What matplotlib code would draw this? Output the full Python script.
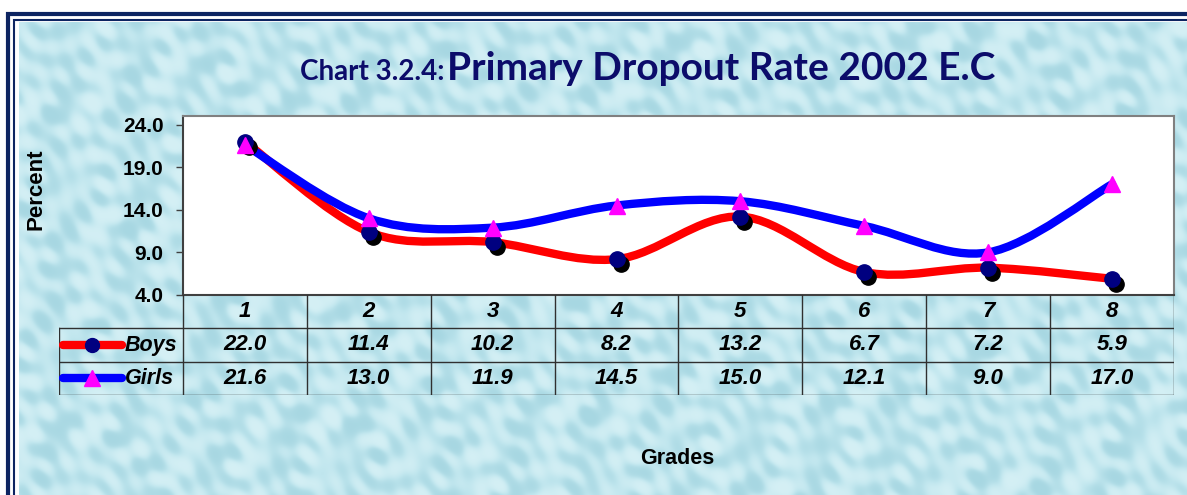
import numpy as np
import matplotlib
matplotlib.use("Agg")
import matplotlib.pyplot as plt
from matplotlib.path import Path
from matplotlib.patches import PathPatch, Rectangle
from matplotlib.lines import Line2D
from matplotlib import transforms
from matplotlib.colors import LinearSegmentedColormap

# donnees : taux d'abandon par classe
grades = ["1", "2", "3", "4", "5", "6", "7", "8"]
boys = [22.0, 11.4, 10.2, 8.2, 13.2, 6.7, 7.2, 5.9]
girls = [21.6, 13.0, 11.9, 14.5, 15.0, 12.1, 9.0, 17.0]
y_ticks = [4.0, 9.0, 14.0, 19.0, 24.0]

W, H = 1187, 495
NAVY = '#0c0c6a'


def px(x0, y0, x1, y1):
    """rectangle en pixels (origine en haut a gauche) -> coords figure"""
    return [x0 / W, 1 - y1 / H, (x1 - x0) / W, (y1 - y0) / H]


def courbe_lisse(xs, ys):
    """courbe de Bezier type Catmull-Rom passant par tous les points"""
    pts = np.column_stack([xs, ys]).astype(float)
    n = len(pts)
    verts = [tuple(pts[0])]
    codes = [Path.MOVETO]
    for i in range(n - 1):
        p0 = pts[max(i - 1, 0)]
        p1 = pts[i]
        p2 = pts[i + 1]
        p3 = pts[min(i + 2, n - 1)]
        c1 = p1 + (p2 - p0) / 6
        c2 = p2 - (p3 - p1) / 6
        verts += [tuple(c1), tuple(c2), tuple(p2)]
        codes += [Path.CURVE4] * 3
    return Path(verts, codes)


fig = plt.figure(figsize=(W / 100, H / 100), dpi=100)
fig.patch.set_facecolor('white')

# fond "gouttes d'eau" : superposition d'ondes dans plusieurs directions
bg = fig.add_axes(px(19, 22, W, H))
bg.set_axis_off()
gx, gy = np.meshgrid(np.linspace(0, 120, 1100), np.linspace(0, 50, 470))
motif = np.zeros_like(gx)
for k, ang in enumerate(np.linspace(0, np.pi, 9, endpoint=False)):
    f = 0.8 + 0.3 * k
    motif += np.cos(f * (gx * np.cos(ang) + gy * np.sin(ang)) + 1.7 * k)
motif = np.tanh(motif / 3.0)
cmap_eau = LinearSegmentedColormap.from_list('eau', ['#a7d7e2', '#c0e6ee', '#d5f0f5'])
bg.imshow(motif, cmap=cmap_eau, aspect='auto', extent=[0, 1, 0, 1], interpolation='bicubic')

# cadre double bleu marine
fig.add_artist(Rectangle((8 / W, -0.1), 2, 1 - 14 / H + 0.1, transform=fig.transFigure,
                         fill=False, edgecolor='#0d2461', linewidth=3))
fig.add_artist(Rectangle((14 / W, -0.1), 2, 1 - 19.5 / H + 0.1, transform=fig.transFigure,
                         fill=False, edgecolor='#0d2461', linewidth=1.5))

# titre
fig.text(300 / W, 1 - 80 / H, "Chart 3.2.4:", fontsize=20, fontweight='bold',
         color=NAVY, family='Lato', va='baseline', ha='left')
fig.text(447 / W, 1 - 80 / H, "Primary Dropout Rate 2002 E.C", fontsize=28, fontweight='bold',
         color=NAVY, family='Lato', va='baseline', ha='left')

# zone du graphique
ax = fig.add_axes(px(183, 116, 1174, 295))
ax.set_facecolor('white')
x = np.arange(len(grades))
ax.set_xlim(-0.5, len(grades) - 0.5)
ax.set_ylim(4, 25)
ax.set_yticks(y_ticks)
ax.set_yticklabels([f"{v:.1f}" for v in y_ticks], fontsize=15, fontweight='bold',
                   family='Liberation Sans')
ax.set_xticks([])
ax.tick_params(axis='y', length=5, width=1, pad=9, color='#404040')
for nom, sp in ax.spines.items():
    sp.set_color('#808080')
    sp.set_linewidth(1.5)
ax.spines['left'].set_color('#404040')
ax.spines['bottom'].set_color('#404040')

ax.add_patch(PathPatch(courbe_lisse(x, boys), fill=False, edgecolor='#ff0000',
                       linewidth=6, capstyle='round', zorder=2))
ax.add_patch(PathPatch(courbe_lisse(x, girls), fill=False, edgecolor='#0000ff',
                       linewidth=6, capstyle='round', zorder=3))

ombre = transforms.offset_copy(ax.transData, fig=fig, x=4, y=-5, units='dots')
ax.plot(x, boys, 'o', color='black', markersize=11, transform=ombre, zorder=4, clip_on=False)
ax.plot(x, boys, 'o', color='#000080', markersize=11, zorder=5, clip_on=False)
ax.plot(x, girls, '^', color='#ff00ff', markersize=12, zorder=6, clip_on=False)

fig.text(36 / W, 1 - 189 / H, "Percent", rotation=90, fontsize=16, fontweight='bold',
         family='Liberation Sans', ha='center', va='center')
fig.text(677 / W, 1 - 459 / H, "Grades", fontsize=15.5, fontweight='bold',
         family='Liberation Sans', ha='center', va='center')

# tableau des donnees sous le graphique
tab = fig.add_axes(px(59, 295, 1174, 395))
tab.set_axis_off()
tab.patch.set_alpha(0)
tab.set_xlim(-1.5, len(grades) - 0.5)
tab.set_ylim(0, 3)
lc = '#303030'
for yy in (0, 1, 2):
    tab.plot([-1.5, len(grades) - 0.5], [yy, yy], color=lc, linewidth=1)
tab.plot([-1.5, -1.5], [0, 2], color=lc, linewidth=1)
for xx in np.arange(-0.5, len(grades), 1.0):
    tab.plot([xx, xx], [0, 3], color=lc, linewidth=1)

police = dict(fontsize=16, fontweight='bold', style='italic', family='Liberation Sans',
              ha='center', va='center')
for i, g in enumerate(grades):
    tab.text(i, 2.5, g, **police)
    tab.text(i, 1.5, f"{boys[i]:.1f}", **police)
    tab.text(i, 0.5, f"{girls[i]:.1f}", **police)

# cles de legende dans le tableau
for yy, col, mk, mcol, nom in [(1.5, '#ff0000', 'o', '#000080', 'Boys'),
                                (0.5, '#0000ff', '^', '#ff00ff', 'Girls')]:
    tab.add_line(Line2D([-1.465, -0.995], [yy, yy], color=col, linewidth=6,
                        solid_capstyle='round'))
    tab.plot([-1.23], [yy], mk, color=mcol, markersize=10 if mk == 'o' else 11)
    tab.text(-0.97, yy, nom, fontsize=15.5, fontweight='bold', style='italic',
             family='Liberation Sans', ha='left', va='center')

fig.savefig('out.png', dpi=100)
